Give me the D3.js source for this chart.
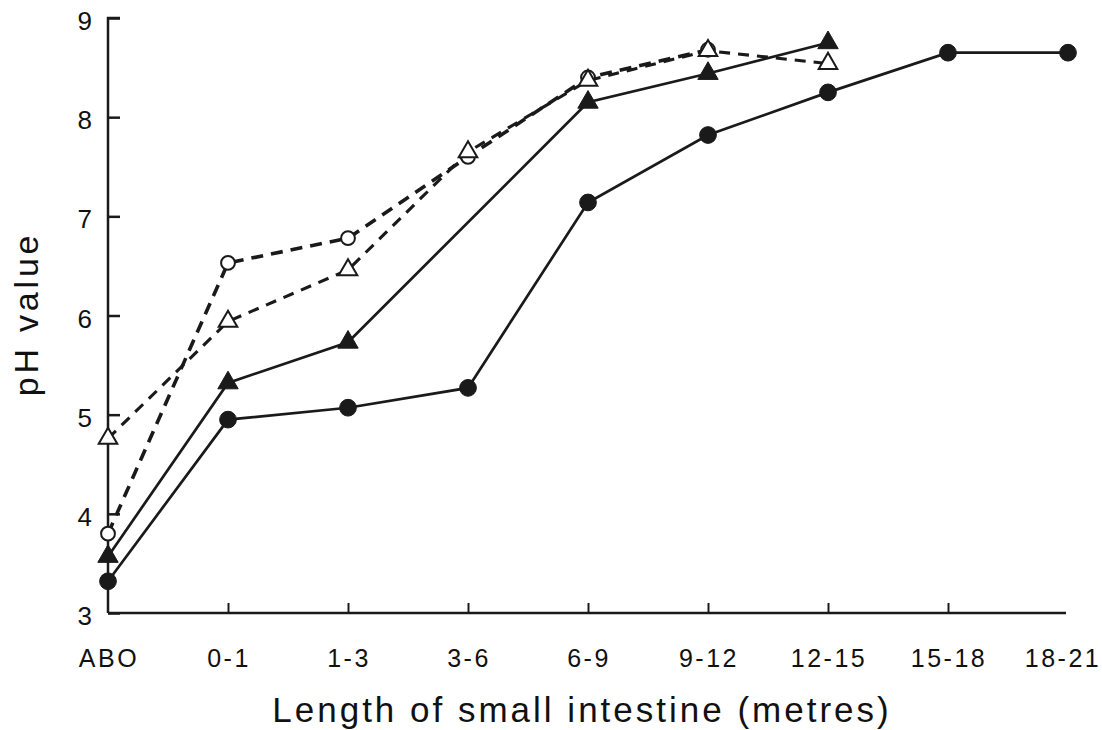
<!DOCTYPE html>
<html><head><meta charset="utf-8">
<script src="https://cdn.jsdelivr.net/npm/d3@7"></script>
<style>body{margin:0;background:#fff}svg{display:block}text{font-family:"Liberation Sans",Arial,sans-serif;fill:#111}</style>
</head><body><svg id="c" width="1102" height="730"></svg>
<script>
const categories = ["ABO","0-1","1-3","3-6","6-9","9-12","12-15","15-18","18-21"];
const yTicks = [3,4,5,6,7,8,9];
const filledCircle = [3.32,4.95,5.07,5.27,7.14,7.82,8.25,8.65,8.65];
const filledTriangle = [3.57,5.32,5.73,null,8.15,8.44,8.75,null,null];
const openCircle = [3.8,6.53,6.78,7.6,8.4,8.68,null,null,null];
const openTriangle = [4.76,5.94,6.46,7.65,8.37,8.67,8.54,null,null];

const svg = d3.select("#c");
const x = d3.scalePoint().domain(categories).range([108,1068]);
const y = d3.scaleLinear().domain([3,9]).range([613,18]);
const ink = "#1a1a1a";

// axes
const yAxis = d3.axisRight(y).tickValues(yTicks).tickSize(12).tickFormat("");
const gy = svg.append("g").attr("transform","translate(108,0)").call(yAxis);
gy.select(".domain").attr("d",`M0,${y(3)}V${y(9)}H12`).attr("stroke",ink).attr("stroke-width",2.5).attr("fill","none");
gy.selectAll(".tick line").attr("stroke",ink).attr("stroke-width",2.5);

const xAxis = d3.axisTop(x).tickValues(categories.slice(1,8)).tickSize(10).tickFormat("");
const gx = svg.append("g").attr("transform",`translate(0,${y(3)})`).call(xAxis);
gx.select(".domain").attr("d",`M108,0H1066`).attr("stroke",ink).attr("stroke-width",2.5);
gx.selectAll(".tick line").attr("stroke",ink).attr("stroke-width",2);

// tick labels
svg.append("g").selectAll("text").data(yTicks).join("text")
  .attr("x",92).attr("y",d=>y(d)+12).attr("text-anchor","end")
  .style("font-size","26px").text(d=>d);
svg.append("g").selectAll("text").data(categories).join("text")
  .attr("x",(d,i)=> i===0 ? 109 : (i===8 ? 1063 : x(d)+1)).attr("y",667).attr("text-anchor","middle")
  .style("font-size","25px").style("letter-spacing","2.5px").text(d=>d);

// axis titles
svg.append("text").attr("x",582).attr("y",722).attr("text-anchor","middle")
  .style("font-size","35px").style("letter-spacing","3px").text("Length of small intestine (metres)");
svg.append("text").attr("transform","translate(38,314) rotate(-90)").attr("text-anchor","middle")
  .style("font-size","34px").style("letter-spacing","3.8px").text("pH value");

function pts(arr){ return categories.map((c,i)=>({c,v:arr[i]})).filter(d=>d.v!=null); }
const line = d3.line().x(d=>x(d.c)).y(d=>y(d.v));

const series = [
  {data:filledCircle, dash:null, w:2.7, marker:"circle", fill:ink},
  {data:filledTriangle, dash:null, w:2.7, marker:"triangle", fill:ink},
  {data:openCircle, dash:"12,8", w:3.6, marker:"circle", fill:"#fff"},
  {data:openTriangle, dash:"11,8", w:3.1, marker:"triangle", fill:"#fff"}
];
series.forEach(s=>{
  svg.append("path").datum(pts(s.data)).attr("d",line)
    .attr("fill","none").attr("stroke",ink).attr("stroke-width",s.w)
    .attr("stroke-dasharray",s.dash);
});
series.forEach(s=>{
  const open = s.fill==="#fff";
  const sym = d3.symbol().type(s.marker==="circle"?d3.symbolCircle:d3.symbolTriangle)
    .size(s.marker==="circle" ? (open?150:220) : (open?150:180));
  svg.append("g").selectAll("path").data(pts(s.data)).join("path")
    .attr("transform",d=>`translate(${x(d.c)},${y(d.v)})`)
    .attr("d",sym).attr("fill",s.fill).attr("stroke",ink).attr("stroke-width",open?2:1);
});
</script></body></html>
